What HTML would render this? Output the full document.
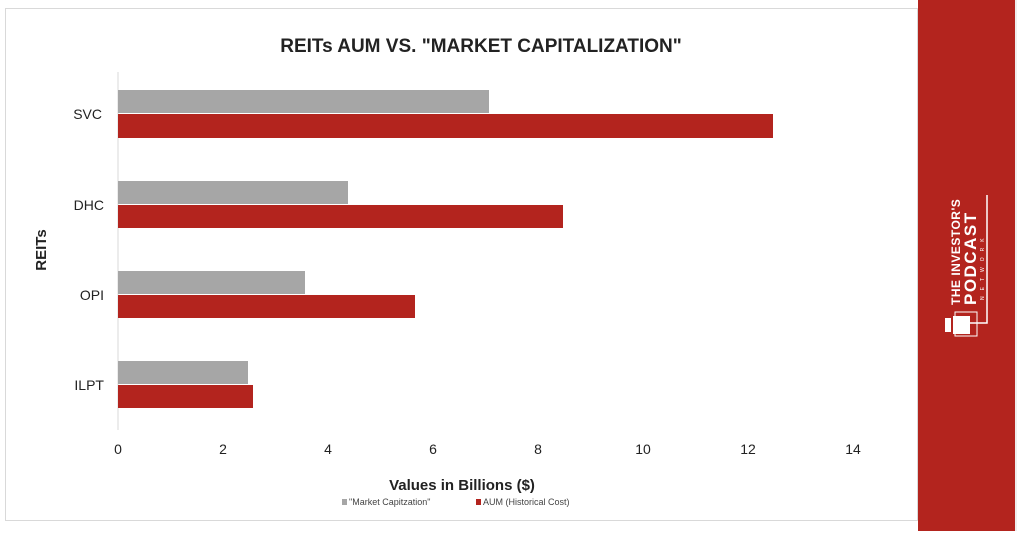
<!DOCTYPE html>
<html><head><meta charset="utf-8"><style>
body{margin:0;width:1024px;height:531px;background:#fff;overflow:hidden;font-family:"Liberation Sans",sans-serif}
</style></head><body>
<svg width="1024" height="531" xmlns="http://www.w3.org/2000/svg" font-family="Liberation Sans, sans-serif">
<rect x="5.5" y="8.5" width="912" height="512" fill="#fff" stroke="#d9d9d9"/>
<rect x="918" y="0" width="97" height="531" fill="#b3241e"/>
<line x1="1016" y1="0" x2="1016" y2="531" stroke="#ddd"/>
<text x="481" y="52" text-anchor="middle" font-size="19" font-weight="bold" fill="#222">REITs AUM VS. "MARKET CAPITALIZATION"</text>
<line x1="118" y1="72" x2="118" y2="430" stroke="#d9d9d9"/>
<g fill="#a6a6a6">
<rect x="118" y="90" width="371" height="23"/>
<rect x="118" y="181" width="230" height="23"/>
<rect x="118" y="271" width="187" height="23"/>
<rect x="118" y="361" width="130" height="23"/>
</g>
<g fill="#b3241e">
<rect x="118" y="114" width="655" height="24"/>
<rect x="118" y="205" width="445" height="23"/>
<rect x="118" y="295" width="297" height="23"/>
<rect x="118" y="385" width="135" height="23"/>
</g>
<g font-size="14" fill="#222" text-anchor="end">
<text x="102" y="119">SVC</text>
<text x="104" y="210">DHC</text>
<text x="104" y="300">OPI</text>
<text x="104" y="390">ILPT</text>
</g>
<g font-size="14" fill="#222" text-anchor="middle">
<text x="118" y="454">0</text><text x="223" y="454">2</text><text x="328" y="454">4</text><text x="433" y="454">6</text>
<text x="538" y="454">8</text><text x="643" y="454">10</text><text x="748" y="454">12</text><text x="853" y="454">14</text>
</g>
<text x="462" y="490" text-anchor="middle" font-size="15" font-weight="bold" fill="#222">Values in Billions ($)</text>
<text x="46" y="250" text-anchor="middle" font-size="15" font-weight="bold" fill="#222" transform="rotate(-90 46 250)">REITs</text>
<rect x="342" y="499" width="5" height="6" fill="#a6a6a6"/>
<text x="349" y="505" font-size="9" fill="#444">"Market Capitzation"</text>
<rect x="476" y="499" width="5" height="6" fill="#b3241e"/>
<text x="483" y="505" font-size="9" fill="#444">AUM (Historical Cost)</text>
<g fill="#fff">
<text transform="translate(960 305) rotate(-90)" font-size="12" font-weight="bold" letter-spacing="0.5">THE INVESTOR'S</text>
<text transform="translate(976 305) rotate(-90)" font-size="17" font-weight="bold" letter-spacing="1.5">PODCAST</text>
<text transform="translate(984 300) rotate(-90)" font-size="5" letter-spacing="6">NETWORK</text>
<rect x="945" y="318" width="6" height="14"/>
<rect x="953" y="316" width="17" height="18"/>
</g>
<polyline points="987,195 987,323 970,323" fill="none" stroke="#fff" stroke-width="1.5"/>
<rect x="955" y="312" width="22" height="24" fill="none" stroke="#fff" stroke-width="1"/>
</svg>
</body></html>
